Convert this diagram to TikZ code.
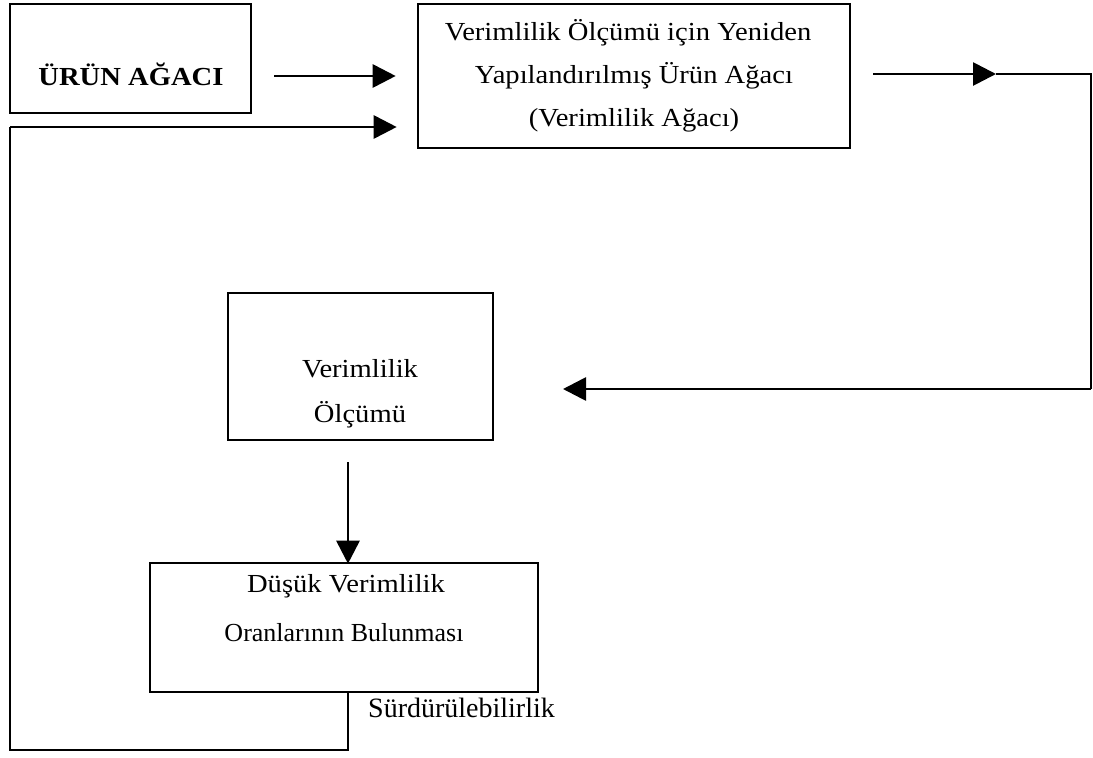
\documentclass[tikz,border=0pt]{standalone}
\usepackage{fontspec}
\setmainfont{Liberation Serif}
\newfontfamily\widefont[FakeStretch=1.1]{Liberation Serif}
\usetikzlibrary{arrows.meta}

\tikzset{
  box/.style={draw, line width=2.6pt, rectangle, inner sep=0pt},
  txt/.style={anchor=base, inner sep=0pt, font=\widefont\fontsize{26}{30}\selectfont},
  flow/.style={line width=2.8pt, -{Triangle[length=23pt,width=23pt]}},
  wire/.style={line width=2.6pt},
}

\begin{document}
\begin{tikzpicture}[x=1pt,y=-1pt]
  \useasboundingbox (0,0) rectangle (1093,758);

  % boxes
  \node[box, minimum width=241pt, minimum height=109pt] (urun) at (130.5,58.5) {};
  \node[box, minimum width=432pt, minimum height=144pt] (yeni) at (634,76) {};
  \node[box, minimum width=265pt, minimum height=147pt] (olcum) at (360.5,366.5) {};
  \node[box, minimum width=388pt, minimum height=129pt] (dusuk) at (344,627.5) {};

  % box texts
  \node[txt, font=\widefont\fontsize{26}{30}\selectfont\bfseries] (t1) at (131,85) {ÜRÜN AĞACI};
  \node[txt] (t2a) at (628,40) {Verimlilik Ölçümü için Yeniden};
  \node[txt] (t2b) at (634,83) {Yapılandırılmış Ürün Ağacı};
  \node[txt] (t2c) at (634,126) {(Verimlilik Ağacı)};
  \node[txt] (t3a) at (360,377) {Verimlilik};
  \node[txt] (t3b) at (360,422) {Ölçümü};
  \node[txt] (t4a) at (346,592) {Düşük Verimlilik};
  \node[txt, font=\fontsize{26}{30}\selectfont] (t4b) at (344,641) {Oranlarının Bulunması};
  \node[txt, anchor=base west, font=\fontsize{28}{32}\selectfont] (surd) at (368,717) {Sürdürülebilirlik};

  % connector end points
  \coordinate (a1s) at ([xshift=22pt]urun.east |- 0,76);
  \coordinate (a1e) at ([xshift=-21pt]yeni.west |- 0,76);
  \coordinate (a3s) at ([xshift=22pt]yeni.east |- 0,74);
  \coordinate (a3m) at (996,74);
  \coordinate (rtop) at (1091,74);
  \coordinate (rbot) at (1091,389);
  \coordinate (a4e) at (563,389);
  \coordinate (a5s) at (348,462);
  \coordinate (a5e) at ([yshift=-2pt]dusuk.north -| 348,0);
  \coordinate (fb0) at (dusuk.south -| 348,0);
  \coordinate (fb1) at (348,750);
  \coordinate (fb2) at (10,750);
  \coordinate (fb3) at (10,127);
  \coordinate (fb4) at ([xshift=-20pt]yeni.west |- 0,127);

  % flow
  \draw[flow] (a1s) -- (a1e);
  \draw[flow] (a3s) -- (a3m);
  \draw[wire] (a3m) -- (rtop) -- (rbot);
  \draw[flow] (rbot) -- (a4e);
  \draw[flow] (a5s) -- (a5e);

  % feedback loop
  \draw[wire] (fb0) -- (fb1) -- (fb2) -- (fb3);
  \draw[flow] (fb3) -- (fb4);
\end{tikzpicture}
\end{document}
